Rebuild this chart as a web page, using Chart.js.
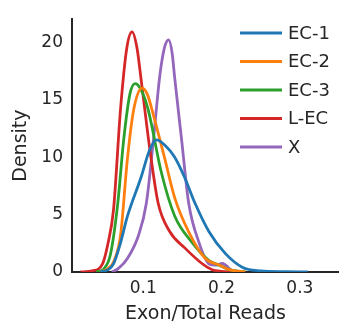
<!DOCTYPE html>
<html>
<head>
<meta charset="utf-8">
<script src="https://cdn.jsdelivr.net/npm/chart.js@4"></script>
<style>
  html, body { margin: 0; padding: 0; background: #fff; }
  #wrap { width: 339px; height: 327px; }
</style>
</head>
<body>
<div id="wrap"><canvas id="kde"></canvas></div>
<script>
// labels / colours
const seriesNames = ['EC-1', 'EC-2', 'EC-3', 'L-EC', 'X'];
const seriesColors = ['#1f77b4', '#ff7f0e', '#2ca02c', '#d62728', '#9467bd'];

// density curves
const ec1X = [0.045, 0.055, 0.062, 0.07, 0.08, 0.097, 0.108, 0.117, 0.128, 0.14, 0.153, 0.166, 0.184, 0.205, 0.227, 0.25, 0.28, 0.31];
const ec1Y = [0, 0.2, 0.7, 2.3, 4.9, 8.2, 10.6, 11.5, 11, 10, 8.2, 6, 3.5, 1.6, 0.4, 0.1, 0.03, 0];

const ec2X = [0.045, 0.055, 0.063, 0.071, 0.08, 0.088, 0.0987, 0.105, 0.114, 0.127, 0.14, 0.158, 0.179, 0.197, 0.21, 0.23];
const ec2Y = [0, 0.3, 1, 3.2, 10, 14.2, 16, 15.5, 13.4, 10, 6.5, 3.5, 1.2, 0.6, 0.2, 0];

const ec3X = [0.04, 0.05, 0.058, 0.0675, 0.075, 0.083, 0.0896, 0.096, 0.106, 0.123, 0.14, 0.162, 0.184, 0.197, 0.21, 0.23];
const ec3Y = [0, 0.3, 1.5, 6, 11.5, 15.5, 16.4, 16, 14.2, 8.7, 4.9, 2.6, 1, 0.6, 0.2, 0];

const lecX = [0.02, 0.035, 0.048, 0.055, 0.062, 0.071, 0.079, 0.0857, 0.092, 0.097, 0.108, 0.119, 0.134, 0.153, 0.175, 0.188, 0.2, 0.215];
const lecY = [0, 0.1, 0.7, 2.5, 5.4, 14.2, 19.5, 20.9, 19.5, 16.9, 10.9, 6, 3.5, 2.1, 0.74, 0.2, 0.05, 0];

const xxX = [0.06, 0.068, 0.08, 0.094, 0.104, 0.113, 0.121, 0.127, 0.1325, 0.137, 0.14, 0.149, 0.158, 0.171, 0.184, 0.192, 0.201, 0.214];
const xxY = [0, 0.3, 1.2, 3.2, 6, 11.5, 17, 19.5, 20.2, 19, 17, 11.5, 6, 2.6, 0.7, 0.6, 0.74, 0];

const xTicks = [0.1, 0.2, 0.3];
const yTicks = [0, 5, 10, 15, 20];

const curves = [[ec1X, ec1Y], [ec2X, ec2Y], [ec3X, ec3Y], [lecX, lecY], [xxX, xxY]];

let datasets = [];
for (let i = 0; i < curves.length; i++) {
    datasets.push({
        label: seriesNames[i],
        data: curves[i][0].map((x, j) => ({x: x, y: curves[i][1][j]})),
        borderColor: seriesColors[i],
        borderWidth: 2.8,
        pointRadius: 0,
        fill: false,
        cubicInterpolationMode: 'monotone'
    });
}

const font = 'DejaVu Sans';
const ink = '#262626';

// legend drawn inside the plot, top right
const lineLegend = {
    id: 'lineLegend',
    afterDraw(chart) {
        const ctx = chart.ctx;
        ctx.save();
        ctx.font = '18px "' + font + '"';
        ctx.textBaseline = 'middle';
        chart.data.datasets.forEach((ds, i) => {
            let y = 33 + i * 28.5;
            ctx.strokeStyle = ds.borderColor;
            ctx.lineWidth = 2.8;
            ctx.beginPath();
            ctx.moveTo(240, y);
            ctx.lineTo(282, y);
            ctx.stroke();
            ctx.fillStyle = ink;
            ctx.fillText(ds.label, 288, y + 1);
        });
        ctx.restore();
    }
};

new Chart(document.getElementById('kde'), {
    type: 'line',
    data: { datasets: datasets },
    plugins: [lineLegend],
    options: {
        responsive: true,
        maintainAspectRatio: false,
        animation: false,
        layout: { padding: { top: 5, right: 0, left: 10, bottom: 0 } },
        plugins: {
            legend: { display: false },
            tooltip: { enabled: false }
        },
        scales: {
            x: {
                type: 'linear',
                min: 0.009,
                max: 0.35,
                afterBuildTicks: (s) => { s.ticks = xTicks.map(v => ({value: v})); },
                afterFit: (s) => { s.height = 55; },
                grid: { display: false, drawTicks: false },
                border: { display: true, color: ink, width: 2 },
                ticks: {
                    color: ink,
                    padding: 6,
                    font: { family: font, size: 17 },
                    callback: (v) => v.toFixed(1)
                },
                title: {
                    display: true,
                    text: 'Exon/Total Reads',
                    color: ink,
                    font: { family: font, size: 19 },
                    padding: { top: 0, bottom: 2 }
                }
            },
            y: {
                min: 0,
                max: 22,
                afterBuildTicks: (s) => { s.ticks = yTicks.map(v => ({value: v})); },
                afterFit: (s) => { s.width = 62; },
                grid: { display: false, drawTicks: false },
                border: { display: true, color: ink, width: 2 },
                ticks: {
                    color: ink,
                    padding: 9,
                    font: { family: font, size: 17 }
                },
                title: {
                    display: true,
                    text: 'Density',
                    color: ink,
                    font: { family: font, size: 19 },
                    padding: { top: 0, bottom: 4 }
                }
            }
        }
    }
});
</script>
</body>
</html>
